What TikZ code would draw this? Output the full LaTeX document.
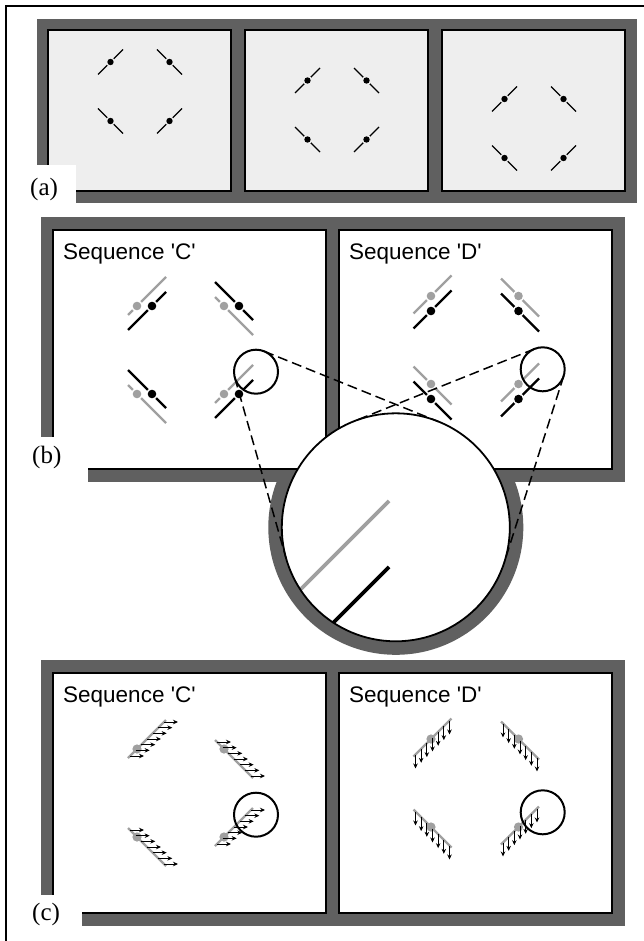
\documentclass[tikz,border=0pt]{standalone}
\usepackage{fontspec}
\newfontfamily\seqfont[Ligatures=TeXOff]{Liberation Sans}
\newfontfamily\labfont{Liberation Serif}
\usetikzlibrary{arrows.meta}
\definecolor{frameg}{HTML}{606060}
\definecolor{boxg}{HTML}{EEEEEE}
\definecolor{lineg}{HTML}{A0A0A0}

% style, px, py, s, cx, half-width
\newcommand\apseg[6]{%
  \draw[#1] ({(#5)-(#6)},{(#3)-(#4)*((#5)-(#6)-(#2))}) -- ({(#5)+(#6)},{(#3)-(#4)*((#5)+(#6)-(#2))});}

\begin{document}
\begin{tikzpicture}[x=1pt,y=-1pt,
  boxst/.style={draw=black,line width=2pt},
  aline/.style={black,line width=1.3pt},
  gline/.style={lineg,line width=2.2pt},
  bline/.style={black,line width=2.2pt},
  dashl/.style={black,line width=1.5pt,dash pattern=on 10pt off 5pt},
  lens/.style={circle,draw=black,line width=2pt,minimum size=44pt,inner sep=0pt},
  seqtext/.style={anchor=base west,inner sep=0pt,font=\seqfont\fontsize{22.5}{26}\selectfont},
  labtext/.style={anchor=base west,inner sep=0pt,font=\labfont\fontsize{25}{30}\selectfont},
  varrow/.style={black,line width=0.9pt,-{Stealth[length=5pt,width=4.5pt]}},
]
\useasboundingbox (0,0) rectangle (644,941);
\fill[white] (0,0) rectangle (644,941);
\draw[line width=2.5pt] (6,945) -- (6,6) -- (648,6);

% ---------------- panel (a)
\fill[frameg] (37,19) rectangle (637,203);
\foreach \bx in {48,245,442} \draw[boxst,fill=boxg] (\bx,30) rectangle ++(183,161);
\fill[white] (37,165) rectangle (76,204);
\node[labtext] (la) at (30,196) {(a)};
\foreach \x/\y/\s in {110.5/62/1,169.5/62/-1,110.5/121/-1,169.5/121/1,
                      307.5/80.5/1,366.5/80.5/-1,307.5/139.5/-1,366.5/139.5/1,
                      504.5/99/1,563.5/99/-1,504.5/158/-1,563.5/158/1}{
  \apseg{aline}{\x}{\y}{\s}{\x}{12.5}
  \fill[boxg] (\x,\y) circle[radius=4.6pt];
  \fill[black] (\x,\y) circle[radius=3.2pt];
}

% ---------------- panel (b)
\fill[frameg] (41,217) rectangle (625,482);
\fill[frameg] (395.8,527.3) circle[radius=127.5pt];
\draw[boxst,fill=white] (53,230) rectangle (326,469);
\draw[boxst,fill=white] (339,230) rectangle (612,469);
\fill[white] (35,437) rectangle (88,483);
\node[labtext] (lb) at (32,463) {(b)};
\node[seqtext] (sbc) at (63,259.5) {Sequence 'C'};
\node[seqtext] (sbd) at (349,259.5) {Sequence 'D'};
% sequence C : horizontal displacement
\foreach \cx/\cy/\s in {147/306/1,234/306/-1,147/394/-1,234/394/1}{
  \pgfmathsetmacro\gx{\cx-10}\pgfmathsetmacro\bx{\cx+5}
  \apseg{gline}{\gx}{\cy}{\s}{\cx}{19}
  \apseg{bline}{\bx}{\cy}{\s}{\cx}{19}
  \fill[white] (\gx,\cy) circle[radius=5.8pt];
  \fill[lineg] (\gx,\cy) circle[radius=4.3pt];
  \fill[white] (\bx,\cy) circle[radius=5.8pt];
  \fill[black] (\bx,\cy) circle[radius=4.3pt];
}
% sequence D : vertical displacement
\foreach \cx/\cy/\s in {432.5/306/1,520/306/-1,432.5/394/-1,520/394/1}{
  \pgfmathsetmacro\px{\cx-1.5}\pgfmathsetmacro\gy{\cy-10}\pgfmathsetmacro\by{\cy+5}
  \apseg{gline}{\px}{\gy}{\s}{\cx}{19}
  \apseg{bline}{\px}{\by}{\s}{\cx}{19}
  \fill[white] (\px,\gy) circle[radius=5.8pt];
  \fill[lineg] (\px,\gy) circle[radius=4.3pt];
  \fill[white] (\px,\by) circle[radius=5.8pt];
  \fill[black] (\px,\by) circle[radius=4.3pt];
}
% magnifier
\fill[white] (395.8,527.3) circle[radius=114pt];
\begin{scope}
  \clip (395.8,527.3) circle[radius=114pt];
  \draw[lineg,line width=3.6pt] (389,501) -- ++(-160,160);
  \draw[black,line width=3.6pt] (389,567) -- ++(-160,160);
\end{scope}
\draw[line width=1.8pt] (395.8,527.3) circle[radius=114pt];
\coordinate (A1) at (264.2,351.3); \coordinate (A2) at (438.4,421.6);
\coordinate (B1) at (234.8,377.7); \coordinate (B2) at (286.1,558.4);
\coordinate (C1) at (563.7,376.0); \coordinate (C2) at (504.4,561.9);
\coordinate (D1) at (534.5,348.9); \coordinate (D2) at (353.4,421.5);
\draw[dashl] (A1) -- (A2);
\draw[dashl] (B1) -- (B2);
\draw[dashl] (C1) -- (C2);
\draw[dashl] (D1) -- (D2);
\node[lens] (lensbc) at (256,371.7) {};
\node[lens] (lensbd) at (542.7,369.3) {};

% ---------------- panel (c)
\fill[frameg] (41,660) rectangle (625,926);
\draw[boxst,fill=white] (53,673) rectangle (326,912.5);
\draw[boxst,fill=white] (339,673) rectangle (612,912.5);
\fill[white] (35,895) rectangle (82,927);
\node[labtext] (lc) at (32,920) {(c)};
\node[seqtext] (scc) at (63,702.5) {Sequence 'C'};
\node[seqtext] (scd) at (349,702.5) {Sequence 'D'};
\foreach \cx/\cy/\s in {147/749/1,234/749/-1,147/837/-1,234/837/1}{
  \pgfmathsetmacro\gx{\cx-10}
  \apseg{gline}{\gx}{\cy}{\s}{\cx}{19}
  \fill[lineg] (\gx,\cy) circle[radius=4.6pt];
  \foreach \k in {0,...,6}{
    \pgfmathsetmacro\ax{\cx-17+\k*34/6}
    \pgfmathsetmacro\ay{\cy-(\s)*(\ax-\gx)}
    \draw[varrow] (\ax,\ay) -- ++(14,0);
  }
}
\foreach \cx/\cy/\s in {432.5/749/1,520/749/-1,432.5/837/-1,520/837/1}{
  \pgfmathsetmacro\px{\cx-1.5}\pgfmathsetmacro\gy{\cy-10}
  \apseg{gline}{\px}{\gy}{\s}{\cx}{19}
  \fill[lineg] (\px,\gy) circle[radius=4.6pt];
  \foreach \k in {0,...,6}{
    \pgfmathsetmacro\ax{\cx-17+\k*34/6}
    \pgfmathsetmacro\ay{\gy-(\s)*(\ax-\px)}
    \draw[varrow] (\ax,\ay) -- ++(0,14);
  }
}
\node[lens] (lenscc) at (256,814.7) {};
\node[lens] (lenscd) at (542.7,812.3) {};
\end{tikzpicture}
\end{document}
